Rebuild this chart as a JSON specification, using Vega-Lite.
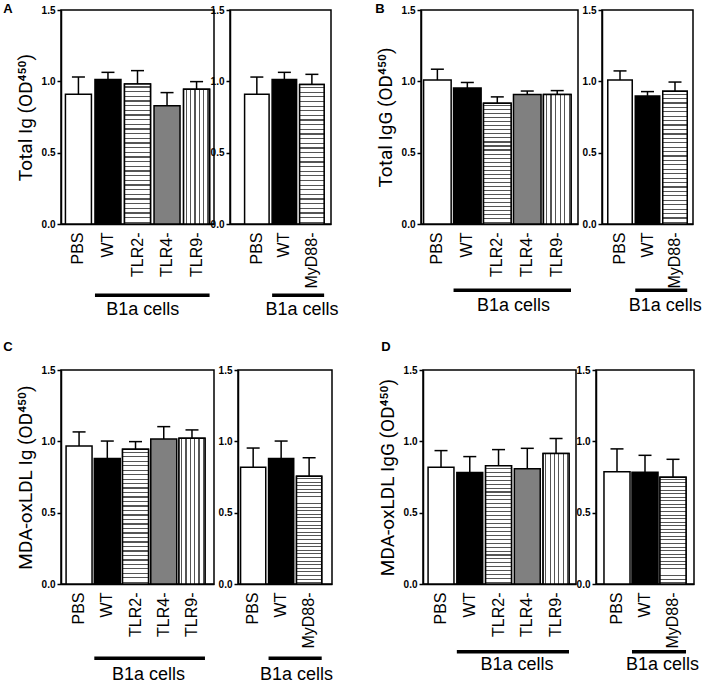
{
"$schema":"https://vega.github.io/schema/vega-lite/v6.json",
"padding":{"left":3,"top":3,"right":0,"bottom":0},
"background":"white",
"params":[
{"name":"hg","value":{"gradient":"linear","x1":0,"y1":0,"x2":0,"y2":1,"stops":[{"offset":0,"color":"white"},
{"offset":0.0167,"color":"white"},{"offset":0.0167,"color":"#555"},{"offset":0.0257,"color":"#555"},{"offset":0.0257,"color":"white"},
{"offset":0.05,"color":"white"},{"offset":0.05,"color":"#555"},{"offset":0.059,"color":"#555"},{"offset":0.059,"color":"white"},
{"offset":0.0833,"color":"white"},{"offset":0.0833,"color":"#555"},{"offset":0.0923,"color":"#555"},{"offset":0.0923,"color":"white"},
{"offset":0.1167,"color":"white"},{"offset":0.1167,"color":"#555"},{"offset":0.1257,"color":"#555"},{"offset":0.1257,"color":"white"},
{"offset":0.15,"color":"white"},{"offset":0.15,"color":"#555"},{"offset":0.159,"color":"#555"},{"offset":0.159,"color":"white"},
{"offset":0.1833,"color":"white"},{"offset":0.1833,"color":"#555"},{"offset":0.1923,"color":"#555"},{"offset":0.1923,"color":"white"},
{"offset":0.2167,"color":"white"},{"offset":0.2167,"color":"#555"},{"offset":0.2257,"color":"#555"},{"offset":0.2257,"color":"white"},
{"offset":0.25,"color":"white"},{"offset":0.25,"color":"#555"},{"offset":0.259,"color":"#555"},{"offset":0.259,"color":"white"},
{"offset":0.2833,"color":"white"},{"offset":0.2833,"color":"#555"},{"offset":0.2923,"color":"#555"},{"offset":0.2923,"color":"white"},
{"offset":0.3167,"color":"white"},{"offset":0.3167,"color":"#555"},{"offset":0.3257,"color":"#555"},{"offset":0.3257,"color":"white"},
{"offset":0.35,"color":"white"},{"offset":0.35,"color":"#555"},{"offset":0.359,"color":"#555"},{"offset":0.359,"color":"white"},
{"offset":0.3833,"color":"white"},{"offset":0.3833,"color":"#555"},{"offset":0.3923,"color":"#555"},{"offset":0.3923,"color":"white"},
{"offset":0.4167,"color":"white"},{"offset":0.4167,"color":"#555"},{"offset":0.4257,"color":"#555"},{"offset":0.4257,"color":"white"},
{"offset":0.45,"color":"white"},{"offset":0.45,"color":"#555"},{"offset":0.459,"color":"#555"},{"offset":0.459,"color":"white"},
{"offset":0.4833,"color":"white"},{"offset":0.4833,"color":"#555"},{"offset":0.4923,"color":"#555"},{"offset":0.4923,"color":"white"},
{"offset":0.5167,"color":"white"},{"offset":0.5167,"color":"#555"},{"offset":0.5257,"color":"#555"},{"offset":0.5257,"color":"white"},
{"offset":0.55,"color":"white"},{"offset":0.55,"color":"#555"},{"offset":0.559,"color":"#555"},{"offset":0.559,"color":"white"},
{"offset":0.5833,"color":"white"},{"offset":0.5833,"color":"#555"},{"offset":0.5923,"color":"#555"},{"offset":0.5923,"color":"white"},
{"offset":0.6167,"color":"white"},{"offset":0.6167,"color":"#555"},{"offset":0.6257,"color":"#555"},{"offset":0.6257,"color":"white"},
{"offset":0.65,"color":"white"},{"offset":0.65,"color":"#555"},{"offset":0.659,"color":"#555"},{"offset":0.659,"color":"white"},
{"offset":0.6833,"color":"white"},{"offset":0.6833,"color":"#555"},{"offset":0.6923,"color":"#555"},{"offset":0.6923,"color":"white"},
{"offset":0.7167,"color":"white"},{"offset":0.7167,"color":"#555"},{"offset":0.7257,"color":"#555"},{"offset":0.7257,"color":"white"},
{"offset":0.75,"color":"white"},{"offset":0.75,"color":"#555"},{"offset":0.759,"color":"#555"},{"offset":0.759,"color":"white"},
{"offset":0.7833,"color":"white"},{"offset":0.7833,"color":"#555"},{"offset":0.7923,"color":"#555"},{"offset":0.7923,"color":"white"},
{"offset":0.8167,"color":"white"},{"offset":0.8167,"color":"#555"},{"offset":0.8257,"color":"#555"},{"offset":0.8257,"color":"white"},
{"offset":0.85,"color":"white"},{"offset":0.85,"color":"#555"},{"offset":0.859,"color":"#555"},{"offset":0.859,"color":"white"},
{"offset":0.8833,"color":"white"},{"offset":0.8833,"color":"#555"},{"offset":0.8923,"color":"#555"},{"offset":0.8923,"color":"white"},
{"offset":0.9167,"color":"white"},{"offset":0.9167,"color":"#555"},{"offset":0.9257,"color":"#555"},{"offset":0.9257,"color":"white"},
{"offset":0.95,"color":"white"},{"offset":0.95,"color":"#555"},{"offset":0.959,"color":"#555"},{"offset":0.959,"color":"white"},
{"offset":0.9833,"color":"white"},{"offset":0.9833,"color":"#555"},{"offset":0.9923,"color":"#555"},{"offset":0.9923,"color":"white"},
{"offset":1,"color":"white"}]}},
{"name":"vg","value":{"gradient":"linear","x1":0,"y1":0,"x2":1,"y2":0,"stops":[{"offset":0,"color":"white"},
{"offset":0.0833,"color":"white"},{"offset":0.0833,"color":"#555"},{"offset":0.1283,"color":"#555"},{"offset":0.1283,"color":"white"},
{"offset":0.25,"color":"white"},{"offset":0.25,"color":"#555"},{"offset":0.295,"color":"#555"},{"offset":0.295,"color":"white"},
{"offset":0.4167,"color":"white"},{"offset":0.4167,"color":"#555"},{"offset":0.4617,"color":"#555"},{"offset":0.4617,"color":"white"},
{"offset":0.5833,"color":"white"},{"offset":0.5833,"color":"#555"},{"offset":0.6283,"color":"#555"},{"offset":0.6283,"color":"white"},
{"offset":0.75,"color":"white"},{"offset":0.75,"color":"#555"},{"offset":0.795,"color":"#555"},{"offset":0.795,"color":"white"},
{"offset":0.9167,"color":"white"},{"offset":0.9167,"color":"#555"},{"offset":0.9617,"color":"#555"},{"offset":0.9617,"color":"white"},
{"offset":1,"color":"white"}]}}
],
"datasets":{"d":[
{"p":"A","s":"L","g":"PBS","m":0.909,"e":1.030},
{"p":"A","s":"L","g":"WT","m":1.012,"e":1.063},
{"p":"A","s":"L","g":"TLR2-","m":0.981,"e":1.075},
{"p":"A","s":"L","g":"TLR4-","m":0.829,"e":0.921},
{"p":"A","s":"L","g":"TLR9-","m":0.944,"e":0.998},
{"p":"A","s":"R","g":"PBS","m":0.909,"e":1.030},
{"p":"A","s":"R","g":"WT","m":1.012,"e":1.063},
{"p":"A","s":"R","g":"MyD88-","m":0.977,"e":1.049},
{"p":"B","s":"L","g":"PBS","m":1.009,"e":1.085},
{"p":"B","s":"L","g":"WT","m":0.953,"e":0.992},
{"p":"B","s":"L","g":"TLR2-","m":0.847,"e":0.891},
{"p":"B","s":"L","g":"TLR4-","m":0.907,"e":0.932},
{"p":"B","s":"L","g":"TLR9-","m":0.907,"e":0.935},
{"p":"B","s":"R","g":"PBS","m":1.009,"e":1.073},
{"p":"B","s":"R","g":"WT","m":0.898,"e":0.928},
{"p":"B","s":"R","g":"MyD88-","m":0.930,"e":0.995},
{"p":"C","s":"L","g":"PBS","m":0.967,"e":1.066},
{"p":"C","s":"L","g":"WT","m":0.880,"e":1.002},
{"p":"C","s":"L","g":"TLR2-","m":0.944,"e":0.998},
{"p":"C","s":"L","g":"TLR4-","m":1.016,"e":1.103},
{"p":"C","s":"L","g":"TLR9-","m":1.021,"e":1.080},
{"p":"C","s":"R","g":"PBS","m":0.819,"e":0.953},
{"p":"C","s":"R","g":"WT","m":0.880,"e":1.002},
{"p":"C","s":"R","g":"MyD88-","m":0.756,"e":0.885},
{"p":"D","s":"L","g":"PBS","m":0.819,"e":0.935},
{"p":"D","s":"L","g":"WT","m":0.781,"e":0.893},
{"p":"D","s":"L","g":"TLR2-","m":0.828,"e":0.942},
{"p":"D","s":"L","g":"TLR4-","m":0.807,"e":0.951},
{"p":"D","s":"L","g":"TLR9-","m":0.914,"e":1.019},
{"p":"D","s":"R","g":"PBS","m":0.786,"e":0.947},
{"p":"D","s":"R","g":"WT","m":0.784,"e":0.902},
{"p":"D","s":"R","g":"MyD88-","m":0.749,"e":0.874}
]},
"config":{
"font":"Liberation Sans",
"view":{"stroke":"black","strokeWidth":1.5},
"axis":{"domainColor":"black","domainWidth":1.5,"grid":false,"labelColor":"black","titleColor":"black","tickColor":"black"},
"axisY":{"labelFontWeight":"bold","labelFontSize":10,"tickSize":4,"tickWidth":1.5,"labelPadding":2,"titleFont":"Roboto","titleFontSize":19,"titleFontWeight":"normal","titlePadding":6},
"axisX":{"ticks":false,"tickSize":0,"labelAngle":270,"labelFontSize":16,"labelPadding":8},
"title":{"fontSize":13,"fontWeight":"bold","color":"black","anchor":"start","frame":"bounds"}
},
"spacing":21,
"vconcat":[
{"hconcat":[
{"title":{"text":"A","offset":-12,"dx":-12},"bounds":"flush","spacing":16,
"hconcat":[
{"width":153,"height":214,"layer":[
{"data":{"name":"d"},"transform":[{"filter":"datum.p==='A' && datum.s==='L'"}],"layer":[
{"mark":{"type":"bar","stroke":"black","strokeWidth":1.5},"encoding":{
"x":{"field":"g","type":"nominal","title":null,"scale":{"domain":["PBS","WT","TLR2-","TLR4-","TLR9-"],"paddingInner":0.12,"paddingOuter":0.15}},
"y":{"field":"m","type":"quantitative","title":"Total Ig (OD⁴⁵⁰)","scale":{"domain":[0,1.5],"nice":false},"axis":{"values":[0,0.5,1,1.5],"format":".1f"}},
"fill":{"condition":[{"test":"datum.g==='WT'","value":"black"},{"test":"datum.g==='TLR4-'","value":"#808080"}],"value":"white"}}},
{"transform":[{"filter":"datum.g==='TLR2-' || datum.g==='MyD88-'"}],"mark":{"type":"bar","fill":{"expr":"hg"},"stroke":"black","strokeWidth":1.5},"encoding":{"x":{"field":"g","type":"nominal","title":null},"y":{"field":"m","type":"quantitative","title":"Total Ig (OD⁴⁵⁰)"}}},
{"transform":[{"filter":"datum.g==='TLR9-'"}],"mark":{"type":"bar","fill":{"expr":"vg"},"stroke":"black","strokeWidth":1.5},"encoding":{"x":{"field":"g","type":"nominal","title":null},"y":{"field":"m","type":"quantitative","title":"Total Ig (OD⁴⁵⁰)"}}},
{"mark":{"type":"rule","color":"black","strokeWidth":1.5},"encoding":{"x":{"field":"g","type":"nominal","title":null},"y":{"field":"m","type":"quantitative","title":"Total Ig (OD⁴⁵⁰)"},"y2":{"field":"e"}}},
{"mark":{"type":"tick","color":"black","size":13,"thickness":1.5,"opacity":1},"encoding":{"x":{"field":"g","type":"nominal","title":null},"y":{"field":"e","type":"quantitative","title":"Total Ig (OD⁴⁵⁰)"}}}
]},
{"data":{"values":[{}]},"layer":[
{"mark":{"type":"rule","color":"black","strokeWidth":3.5},"encoding":{"x":{"datum":"WT","type":"nominal","bandPosition":0,"title":null},"x2":{"datum":"TLR9-","bandPosition":1},"y":{"datum":-0.5,"type":"quantitative","title":"Total Ig (OD⁴⁵⁰)"}}},
{"mark":{"type":"text","text":"B1a cells","fontSize":18,"color":"black","baseline":"middle"},"encoding":{"x":{"datum":"TLR2-","type":"nominal","bandPosition":0.7,"title":null},"y":{"datum":-0.6,"type":"quantitative","title":"Total Ig (OD⁴⁵⁰)"}}}
]}
]},
{"width":101,"height":214,"layer":[
{"data":{"name":"d"},"transform":[{"filter":"datum.p==='A' && datum.s==='R'"}],"layer":[
{"mark":{"type":"bar","stroke":"black","strokeWidth":1.5},"encoding":{
"x":{"field":"g","type":"nominal","title":null,"scale":{"domain":["PBS","WT","MyD88-"],"paddingInner":0.11,"paddingOuter":0.39,"align":0.68}},
"y":{"field":"m","type":"quantitative","title":null,"scale":{"domain":[0,1.5],"nice":false},"axis":{"values":[0,0.5,1,1.5],"format":".1f"}},
"fill":{"condition":[{"test":"datum.g==='WT'","value":"black"},{"test":"datum.g==='TLR4-'","value":"#808080"}],"value":"white"}}},
{"transform":[{"filter":"datum.g==='TLR2-' || datum.g==='MyD88-'"}],"mark":{"type":"bar","fill":{"expr":"hg"},"stroke":"black","strokeWidth":1.5},"encoding":{"x":{"field":"g","type":"nominal","title":null},"y":{"field":"m","type":"quantitative","title":null}}},
{"mark":{"type":"rule","color":"black","strokeWidth":1.5},"encoding":{"x":{"field":"g","type":"nominal","title":null},"y":{"field":"m","type":"quantitative","title":null},"y2":{"field":"e"}}},
{"mark":{"type":"tick","color":"black","size":13,"thickness":1.5,"opacity":1},"encoding":{"x":{"field":"g","type":"nominal","title":null},"y":{"field":"e","type":"quantitative","title":null}}}
]},
{"data":{"values":[{}]},"layer":[
{"mark":{"type":"rule","color":"black","strokeWidth":3.5},"encoding":{"x":{"datum":"WT","type":"nominal","bandPosition":0,"title":null},"x2":{"datum":"MyD88-","bandPosition":1},"y":{"datum":-0.5,"type":"quantitative","title":null}}},
{"mark":{"type":"text","text":"B1a cells","fontSize":18,"color":"black","baseline":"middle"},"encoding":{"x":{"datum":"MyD88-","type":"nominal","bandPosition":0.1,"title":null},"y":{"datum":-0.6,"type":"quantitative","title":null}}}
]}
]}
]},
{"title":{"text":"B","offset":-12,"dx":0},"bounds":"flush","spacing":24,
"hconcat":[
{"width":157,"height":214,"layer":[
{"data":{"name":"d"},"transform":[{"filter":"datum.p==='B' && datum.s==='L'"}],"layer":[
{"mark":{"type":"bar","stroke":"black","strokeWidth":1.5},"encoding":{
"x":{"field":"g","type":"nominal","title":null,"scale":{"domain":["PBS","WT","TLR2-","TLR4-","TLR9-"],"paddingInner":0.08,"paddingOuter":0.16,"align":0.27}},
"y":{"field":"m","type":"quantitative","title":"Total IgG (OD⁴⁵⁰)","scale":{"domain":[0,1.5],"nice":false},"axis":{"values":[0,0.5,1,1.5],"format":".1f"}},
"fill":{"condition":[{"test":"datum.g==='WT'","value":"black"},{"test":"datum.g==='TLR4-'","value":"#808080"}],"value":"white"}}},
{"transform":[{"filter":"datum.g==='TLR2-' || datum.g==='MyD88-'"}],"mark":{"type":"bar","fill":{"expr":"hg"},"stroke":"black","strokeWidth":1.5},"encoding":{"x":{"field":"g","type":"nominal","title":null},"y":{"field":"m","type":"quantitative","title":"Total IgG (OD⁴⁵⁰)"}}},
{"transform":[{"filter":"datum.g==='TLR9-'"}],"mark":{"type":"bar","fill":{"expr":"vg"},"stroke":"black","strokeWidth":1.5},"encoding":{"x":{"field":"g","type":"nominal","title":null},"y":{"field":"m","type":"quantitative","title":"Total IgG (OD⁴⁵⁰)"}}},
{"mark":{"type":"rule","color":"black","strokeWidth":1.5},"encoding":{"x":{"field":"g","type":"nominal","title":null},"y":{"field":"m","type":"quantitative","title":"Total IgG (OD⁴⁵⁰)"},"y2":{"field":"e"}}},
{"mark":{"type":"tick","color":"black","size":13,"thickness":1.5,"opacity":1},"encoding":{"x":{"field":"g","type":"nominal","title":null},"y":{"field":"e","type":"quantitative","title":"Total IgG (OD⁴⁵⁰)"}}}
]},
{"data":{"values":[{}]},"layer":[
{"mark":{"type":"rule","color":"black","strokeWidth":3.5},"encoding":{"x":{"datum":"WT","type":"nominal","bandPosition":0,"title":null},"x2":{"datum":"TLR9-","bandPosition":1},"y":{"datum":-0.465,"type":"quantitative","title":"Total IgG (OD⁴⁵⁰)"}}},
{"mark":{"type":"text","text":"B1a cells","fontSize":18,"color":"black","baseline":"middle"},"encoding":{"x":{"datum":"TLR4-","type":"nominal","bandPosition":0,"title":null},"y":{"datum":-0.576,"type":"quantitative","title":"Total IgG (OD⁴⁵⁰)"}}}
]}
]},
{"width":91,"height":214,"layer":[
{"data":{"name":"d"},"transform":[{"filter":"datum.p==='B' && datum.s==='R'"}],"layer":[
{"mark":{"type":"bar","stroke":"black","strokeWidth":1.5},"encoding":{
"x":{"field":"g","type":"nominal","title":null,"scale":{"domain":["PBS","WT","MyD88-"],"paddingInner":0.11,"paddingOuter":0.21}},
"y":{"field":"m","type":"quantitative","title":null,"scale":{"domain":[0,1.5],"nice":false},"axis":{"values":[0,0.5,1,1.5],"format":".1f"}},
"fill":{"condition":[{"test":"datum.g==='WT'","value":"black"},{"test":"datum.g==='TLR4-'","value":"#808080"}],"value":"white"}}},
{"transform":[{"filter":"datum.g==='TLR2-' || datum.g==='MyD88-'"}],"mark":{"type":"bar","fill":{"expr":"hg"},"stroke":"black","strokeWidth":1.5},"encoding":{"x":{"field":"g","type":"nominal","title":null},"y":{"field":"m","type":"quantitative","title":null}}},
{"mark":{"type":"rule","color":"black","strokeWidth":1.5},"encoding":{"x":{"field":"g","type":"nominal","title":null},"y":{"field":"m","type":"quantitative","title":null},"y2":{"field":"e"}}},
{"mark":{"type":"tick","color":"black","size":13,"thickness":1.5,"opacity":1},"encoding":{"x":{"field":"g","type":"nominal","title":null},"y":{"field":"e","type":"quantitative","title":null}}}
]},
{"data":{"values":[{}]},"layer":[
{"mark":{"type":"rule","color":"black","strokeWidth":3.5},"encoding":{"x":{"datum":"WT","type":"nominal","bandPosition":0,"title":null},"x2":{"datum":"MyD88-","bandPosition":1},"y":{"datum":-0.465,"type":"quantitative","title":null}}},
{"mark":{"type":"text","text":"B1a cells","fontSize":18,"color":"black","baseline":"middle"},"encoding":{"x":{"datum":"MyD88-","type":"nominal","bandPosition":0.1,"title":null},"y":{"datum":-0.576,"type":"quantitative","title":null}}}
]}
]}
]}
],"spacing":35},
{"hconcat":[
{"title":{"text":"C","offset":10,"dx":-12},"bounds":"flush","spacing":24,
"hconcat":[
{"width":153,"height":214,"layer":[
{"data":{"name":"d"},"transform":[{"filter":"datum.p==='C' && datum.s==='L'"}],"layer":[
{"mark":{"type":"bar","stroke":"black","strokeWidth":1.5},"encoding":{
"x":{"field":"g","type":"nominal","title":null,"scale":{"domain":["PBS","WT","TLR2-","TLR4-","TLR9-"],"paddingInner":0.08,"paddingOuter":0.25,"align":0.36}},
"y":{"field":"m","type":"quantitative","title":"MDA-oxLDL Ig (OD⁴⁵⁰)","scale":{"domain":[0,1.5],"nice":false},"axis":{"values":[0,0.5,1,1.5],"format":".1f"}},
"fill":{"condition":[{"test":"datum.g==='WT'","value":"black"},{"test":"datum.g==='TLR4-'","value":"#808080"}],"value":"white"}}},
{"transform":[{"filter":"datum.g==='TLR2-' || datum.g==='MyD88-'"}],"mark":{"type":"bar","fill":{"expr":"hg"},"stroke":"black","strokeWidth":1.5},"encoding":{"x":{"field":"g","type":"nominal","title":null},"y":{"field":"m","type":"quantitative","title":"MDA-oxLDL Ig (OD⁴⁵⁰)"}}},
{"transform":[{"filter":"datum.g==='TLR9-'"}],"mark":{"type":"bar","fill":{"expr":"vg"},"stroke":"black","strokeWidth":1.5},"encoding":{"x":{"field":"g","type":"nominal","title":null},"y":{"field":"m","type":"quantitative","title":"MDA-oxLDL Ig (OD⁴⁵⁰)"}}},
{"mark":{"type":"rule","color":"black","strokeWidth":1.5},"encoding":{"x":{"field":"g","type":"nominal","title":null},"y":{"field":"m","type":"quantitative","title":"MDA-oxLDL Ig (OD⁴⁵⁰)"},"y2":{"field":"e"}}},
{"mark":{"type":"tick","color":"black","size":13,"thickness":1.5,"opacity":1},"encoding":{"x":{"field":"g","type":"nominal","title":null},"y":{"field":"e","type":"quantitative","title":"MDA-oxLDL Ig (OD⁴⁵⁰)"}}}
]},
{"data":{"values":[{}]},"layer":[
{"mark":{"type":"rule","color":"black","strokeWidth":3.5},"encoding":{"x":{"datum":"WT","type":"nominal","bandPosition":0,"title":null},"x2":{"datum":"TLR9-","bandPosition":1},"y":{"datum":-0.52,"type":"quantitative","title":"MDA-oxLDL Ig (OD⁴⁵⁰)"}}},
{"mark":{"type":"text","text":"B1a cells","fontSize":18,"color":"black","baseline":"middle"},"encoding":{"x":{"datum":"TLR2-","type":"nominal","bandPosition":1,"title":null},"y":{"datum":-0.64,"type":"quantitative","title":"MDA-oxLDL Ig (OD⁴⁵⁰)"}}}
]}
]},
{"width":94,"height":214,"layer":[
{"data":{"name":"d"},"transform":[{"filter":"datum.p==='C' && datum.s==='R'"}],"layer":[
{"mark":{"type":"bar","stroke":"black","strokeWidth":1.5},"encoding":{
"x":{"field":"g","type":"nominal","title":null,"scale":{"domain":["PBS","WT","MyD88-"],"paddingInner":0.1,"paddingOuter":0.23,"align":0.2}},
"y":{"field":"m","type":"quantitative","title":null,"scale":{"domain":[0,1.5],"nice":false},"axis":{"values":[0,0.5,1,1.5],"format":".1f"}},
"fill":{"condition":[{"test":"datum.g==='WT'","value":"black"},{"test":"datum.g==='TLR4-'","value":"#808080"}],"value":"white"}}},
{"transform":[{"filter":"datum.g==='TLR2-' || datum.g==='MyD88-'"}],"mark":{"type":"bar","fill":{"expr":"hg"},"stroke":"black","strokeWidth":1.5},"encoding":{"x":{"field":"g","type":"nominal","title":null},"y":{"field":"m","type":"quantitative","title":null}}},
{"mark":{"type":"rule","color":"black","strokeWidth":1.5},"encoding":{"x":{"field":"g","type":"nominal","title":null},"y":{"field":"m","type":"quantitative","title":null},"y2":{"field":"e"}}},
{"mark":{"type":"tick","color":"black","size":13,"thickness":1.5,"opacity":1},"encoding":{"x":{"field":"g","type":"nominal","title":null},"y":{"field":"e","type":"quantitative","title":null}}}
]},
{"data":{"values":[{}]},"layer":[
{"mark":{"type":"rule","color":"black","strokeWidth":3.5},"encoding":{"x":{"datum":"WT","type":"nominal","bandPosition":0,"title":null},"x2":{"datum":"MyD88-","bandPosition":1},"y":{"datum":-0.52,"type":"quantitative","title":null}}},
{"mark":{"type":"text","text":"B1a cells","fontSize":18,"color":"black","baseline":"middle"},"encoding":{"x":{"datum":"MyD88-","type":"nominal","bandPosition":0,"title":null},"y":{"datum":-0.64,"type":"quantitative","title":null}}}
]}
]}
]},
{"title":{"text":"D","offset":10,"dx":4},"bounds":"flush","spacing":20,
"hconcat":[
{"width":153,"height":214,"layer":[
{"data":{"name":"d"},"transform":[{"filter":"datum.p==='D' && datum.s==='L'"}],"layer":[
{"mark":{"type":"bar","stroke":"black","strokeWidth":1.5},"encoding":{
"x":{"field":"g","type":"nominal","title":null,"scale":{"domain":["PBS","WT","TLR2-","TLR4-","TLR9-"],"paddingInner":0.1,"paddingOuter":0.21,"align":0.42}},
"y":{"field":"m","type":"quantitative","title":"MDA-oxLDL IgG (OD⁴⁵⁰)","scale":{"domain":[0,1.5],"nice":false},"axis":{"values":[0,0.5,1,1.5],"format":".1f"}},
"fill":{"condition":[{"test":"datum.g==='WT'","value":"black"},{"test":"datum.g==='TLR4-'","value":"#808080"}],"value":"white"}}},
{"transform":[{"filter":"datum.g==='TLR2-' || datum.g==='MyD88-'"}],"mark":{"type":"bar","fill":{"expr":"hg"},"stroke":"black","strokeWidth":1.5},"encoding":{"x":{"field":"g","type":"nominal","title":null},"y":{"field":"m","type":"quantitative","title":"MDA-oxLDL IgG (OD⁴⁵⁰)"}}},
{"transform":[{"filter":"datum.g==='TLR9-'"}],"mark":{"type":"bar","fill":{"expr":"vg"},"stroke":"black","strokeWidth":1.5},"encoding":{"x":{"field":"g","type":"nominal","title":null},"y":{"field":"m","type":"quantitative","title":"MDA-oxLDL IgG (OD⁴⁵⁰)"}}},
{"mark":{"type":"rule","color":"black","strokeWidth":1.5},"encoding":{"x":{"field":"g","type":"nominal","title":null},"y":{"field":"m","type":"quantitative","title":"MDA-oxLDL IgG (OD⁴⁵⁰)"},"y2":{"field":"e"}}},
{"mark":{"type":"tick","color":"black","size":13,"thickness":1.5,"opacity":1},"encoding":{"x":{"field":"g","type":"nominal","title":null},"y":{"field":"e","type":"quantitative","title":"MDA-oxLDL IgG (OD⁴⁵⁰)"}}}
]},
{"data":{"values":[{}]},"layer":[
{"mark":{"type":"rule","color":"black","strokeWidth":3.5},"encoding":{"x":{"datum":"WT","type":"nominal","bandPosition":0,"title":null},"x2":{"datum":"TLR9-","bandPosition":1},"y":{"datum":-0.475,"type":"quantitative","title":"MDA-oxLDL IgG (OD⁴⁵⁰)"}}},
{"mark":{"type":"text","text":"B1a cells","fontSize":18,"color":"black","baseline":"middle"},"encoding":{"x":{"datum":"TLR4-","type":"nominal","bandPosition":0.1,"title":null},"y":{"datum":-0.57,"type":"quantitative","title":"MDA-oxLDL IgG (OD⁴⁵⁰)"}}}
]}
]},
{"width":98,"height":214,"layer":[
{"data":{"name":"d"},"transform":[{"filter":"datum.p==='D' && datum.s==='R'"}],"layer":[
{"mark":{"type":"bar","stroke":"black","strokeWidth":1.5},"encoding":{
"x":{"field":"g","type":"nominal","title":null,"scale":{"domain":["PBS","WT","MyD88-"],"paddingInner":0.07,"paddingOuter":0.285}},
"y":{"field":"m","type":"quantitative","title":null,"scale":{"domain":[0,1.5],"nice":false},"axis":{"values":[0,0.5,1,1.5],"format":".1f"}},
"fill":{"condition":[{"test":"datum.g==='WT'","value":"black"},{"test":"datum.g==='TLR4-'","value":"#808080"}],"value":"white"}}},
{"transform":[{"filter":"datum.g==='TLR2-' || datum.g==='MyD88-'"}],"mark":{"type":"bar","fill":{"expr":"hg"},"stroke":"black","strokeWidth":1.5},"encoding":{"x":{"field":"g","type":"nominal","title":null},"y":{"field":"m","type":"quantitative","title":null}}},
{"mark":{"type":"rule","color":"black","strokeWidth":1.5},"encoding":{"x":{"field":"g","type":"nominal","title":null},"y":{"field":"m","type":"quantitative","title":null},"y2":{"field":"e"}}},
{"mark":{"type":"tick","color":"black","size":13,"thickness":1.5,"opacity":1},"encoding":{"x":{"field":"g","type":"nominal","title":null},"y":{"field":"e","type":"quantitative","title":null}}}
]},
{"data":{"values":[{}]},"layer":[
{"mark":{"type":"rule","color":"black","strokeWidth":3.5},"encoding":{"x":{"datum":"WT","type":"nominal","bandPosition":0,"title":null},"x2":{"datum":"MyD88-","bandPosition":1},"y":{"datum":-0.475,"type":"quantitative","title":null}}},
{"mark":{"type":"text","text":"B1a cells","fontSize":18,"color":"black","baseline":"middle"},"encoding":{"x":{"datum":"MyD88-","type":"nominal","bandPosition":0.1,"title":null},"y":{"datum":-0.57,"type":"quantitative","title":null}}}
]}
]}
]}
],"spacing":43}
]
}
